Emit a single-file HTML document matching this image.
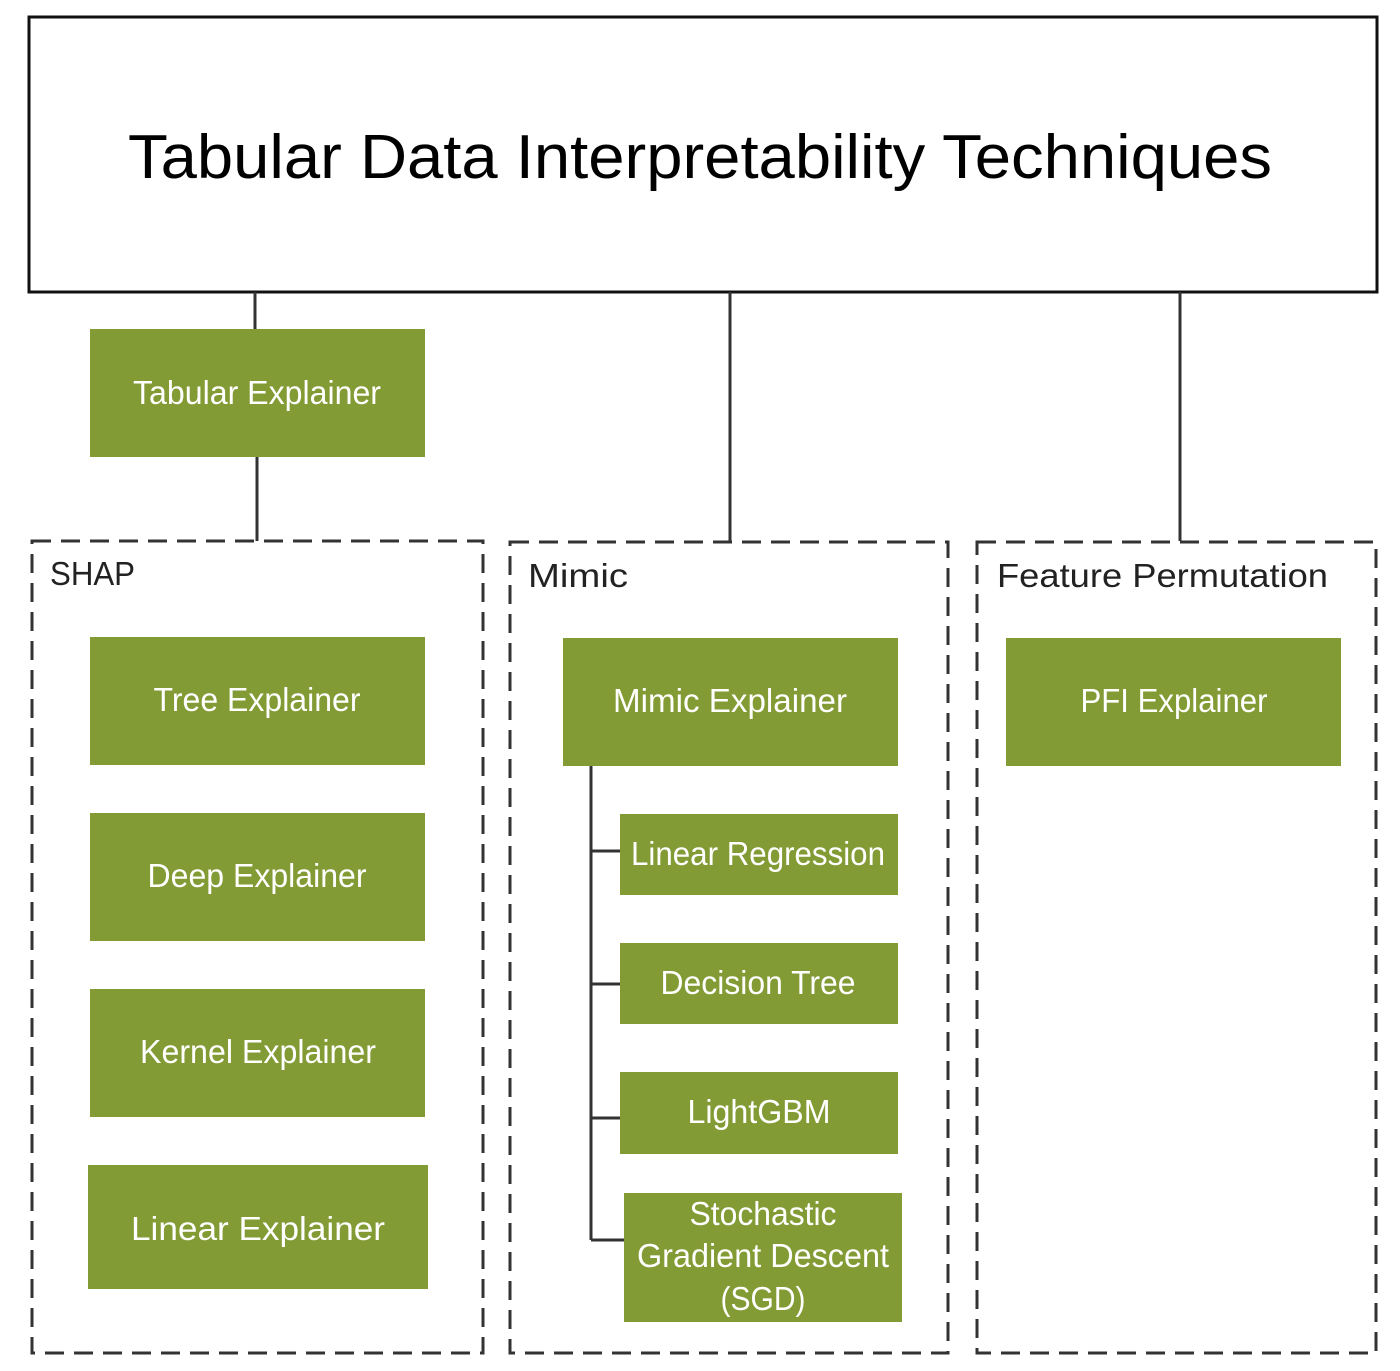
<!DOCTYPE html>
<html><head><meta charset="utf-8"><style>
html,body{margin:0;padding:0;background:#fff;}
svg{display:block;}
.n{fill:#839b34;}
.t{fill:#fff;font-family:"Liberation Sans",sans-serif;font-size:33px;text-anchor:middle;}
.l{fill:#222;font-family:"Liberation Sans",sans-serif;font-size:33px;}
.d{fill:none;stroke:#333;stroke-width:3;stroke-dasharray:19 10;}
.c{stroke:#333;stroke-width:3;fill:none;}
</style></head><body>
<svg width="1400" height="1371" viewBox="0 0 1400 1371" xmlns="http://www.w3.org/2000/svg">
<rect x="29" y="17" width="1348" height="275" fill="#fff" stroke="#111" stroke-width="3"/>
<text x="700" y="178" font-family="'Liberation Sans',sans-serif" font-size="62" text-anchor="middle" fill="#000" textLength="1144" lengthAdjust="spacingAndGlyphs">Tabular Data Interpretability Techniques</text>

<!-- connectors -->
<line class="c" x1="255" y1="292" x2="255" y2="329"/>
<line class="c" x1="257" y1="457" x2="257" y2="541"/>
<line class="c" x1="730" y1="292" x2="730" y2="541"/>
<line class="c" x1="1180" y1="292" x2="1180" y2="541"/>
<line class="c" x1="591" y1="766" x2="591" y2="1240"/>
<line class="c" x1="591" y1="851" x2="620" y2="851"/>
<line class="c" x1="591" y1="984" x2="620" y2="984"/>
<line class="c" x1="591" y1="1118" x2="620" y2="1118"/>
<line class="c" x1="591" y1="1240" x2="624" y2="1240"/>

<!-- dashed groups -->
<rect class="d" x="32" y="541" width="451" height="812"/>
<rect class="d" x="510" y="542" width="438" height="811"/>
<rect class="d" x="977" y="542" width="399" height="811"/>
<text class="l" x="50" y="585" textLength="85" lengthAdjust="spacingAndGlyphs">SHAP</text>
<text class="l" x="528" y="587" textLength="100" lengthAdjust="spacingAndGlyphs">Mimic</text>
<text class="l" x="997" y="587" textLength="331" lengthAdjust="spacingAndGlyphs">Feature Permutation</text>

<!-- nodes -->
<rect class="n" x="90" y="329" width="335" height="128"/>
<text class="t" x="257" y="404" textLength="248" lengthAdjust="spacingAndGlyphs">Tabular Explainer</text>

<rect class="n" x="90" y="637" width="335" height="128"/>
<text class="t" x="257" y="711" textLength="207" lengthAdjust="spacingAndGlyphs">Tree Explainer</text>
<rect class="n" x="90" y="813" width="335" height="128"/>
<text class="t" x="257" y="887" textLength="219" lengthAdjust="spacingAndGlyphs">Deep Explainer</text>
<rect class="n" x="90" y="989" width="335" height="128"/>
<text class="t" x="258" y="1063" textLength="236" lengthAdjust="spacingAndGlyphs">Kernel Explainer</text>
<rect class="n" x="88" y="1165" width="340" height="124"/>
<text class="t" x="258" y="1240" textLength="254" lengthAdjust="spacingAndGlyphs">Linear Explainer</text>

<rect class="n" x="563" y="638" width="335" height="128"/>
<text class="t" x="730" y="712" textLength="234" lengthAdjust="spacingAndGlyphs">Mimic Explainer</text>
<rect class="n" x="620" y="814" width="278" height="81"/>
<text class="t" x="758" y="865" textLength="254" lengthAdjust="spacingAndGlyphs">Linear Regression</text>
<rect class="n" x="620" y="943" width="278" height="81"/>
<text class="t" x="758" y="994" textLength="195" lengthAdjust="spacingAndGlyphs">Decision Tree</text>
<rect class="n" x="620" y="1072" width="278" height="82"/>
<text class="t" x="759" y="1123" textLength="143" lengthAdjust="spacingAndGlyphs">LightGBM</text>
<rect class="n" x="624" y="1193" width="278" height="129"/>
<text class="t" x="763" y="1225" textLength="147" lengthAdjust="spacingAndGlyphs">Stochastic</text>
<text class="t" x="763" y="1267" textLength="252" lengthAdjust="spacingAndGlyphs">Gradient Descent</text>
<text class="t" x="763" y="1310" textLength="85" lengthAdjust="spacingAndGlyphs">(SGD)</text>

<rect class="n" x="1006" y="638" width="335" height="128"/>
<text class="t" x="1174" y="712" textLength="187" lengthAdjust="spacingAndGlyphs">PFI Explainer</text>
</svg>
</body></html>
